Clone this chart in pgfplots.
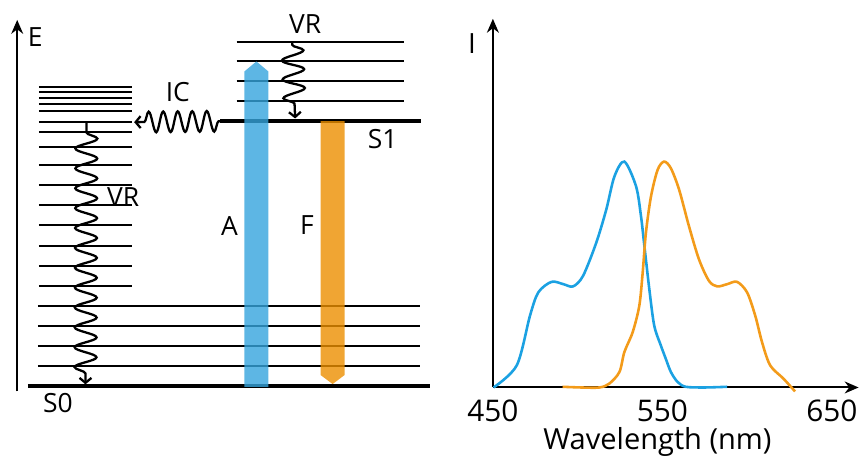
\documentclass[border=0pt]{standalone}
\usepackage{pgfplots}
\pgfplotsset{compat=1.18}
\usepackage{fontspec}
\setmainfont{Open Sans}
\usetikzlibrary{decorations.pathmorphing,arrows.meta}
\definecolor{absB}{RGB}{53,164,221}
\definecolor{fluO}{RGB}{236,143,0}
\definecolor{specB}{RGB}{27,161,226}
\definecolor{specO}{RGB}{243,155,26}
\begin{document}
\begin{tikzpicture}
\begin{axis}[name=diag, at={(0,0)}, anchor=south west, scale only axis,
  width=432pt, height=228.5pt, xmin=0, xmax=864, ymin=0, ymax=457,
  y dir=reverse, hide axis, clip=false, unbounded coords=jump]
\path (axis cs:0,0) rectangle (axis cs:864,457);
% energy axis
\draw[line width=1pt, -{Stealth[length=7pt,width=6pt]}] (axis cs:17.3,393) -- (axis cs:17.3,20);
% short levels of S0
\addplot[black, line width=1pt] coordinates {
(39,87.3)(133,87.3)(nan,nan)(39,92.7)(133,92.7)(nan,nan)(39,98.3)(133,98.3)(nan,nan)
(39,104)(133,104)(nan,nan)(39,111.7)(133,111.7)(nan,nan)(39,122.7)(133,122.7)(nan,nan)
(39,132.3)(133,132.3)(nan,nan)(39,147.7)(133,147.7)(nan,nan)(39,165.7)(133,165.7)(nan,nan)
(39,185.7)(133,185.7)(nan,nan)(39,206)(133,206)(nan,nan)(39,226)(133,226)(nan,nan)
(39,246.7)(133,246.7)(nan,nan)(39,266.7)(133,266.7)(nan,nan)(39,287)(133,287)};
% long levels of S0
\addplot[black, line width=1pt] coordinates {
(38,307.3)(423,307.3)(nan,nan)(38,327.3)(423,327.3)(nan,nan)(38,347.3)(423,347.3)(nan,nan)(38,367.7)(423,367.7)};
% levels of S1
\addplot[black, line width=1pt] coordinates {
(238,41.7)(407,41.7)(nan,nan)(238,61.7)(407,61.7)(nan,nan)(238,81.7)(407,81.7)(nan,nan)(238,101.7)(407,101.7)};
% S0 and S1
\addplot[black, line width=2.4pt] coordinates {(28,387.7)(433,387.7)};
\addplot[black, line width=2.2pt] coordinates {(221.7,121.7)(423.3,121.7)};
% absorption and fluorescence arrows
\addplot[fill=absB, draw=none, fill opacity=0.8] coordinates {(246,388.5)(246,71.7)(258,61.7)(270,71.7)(270,388.5)} -- cycle;
\addplot[fill=fluO, draw=none, fill opacity=0.8] coordinates {(322.7,121.7)(346.7,121.7)(346.7,376.7)(334.7,385.7)(322.7,376.7)} -- cycle;
% wavy transitions
\draw[line width=1.15pt, decorate, decoration={snake, amplitude=5.2pt, segment length=7.3pt, pre length=1pt, post length=3pt}, -{Straight Barb[length=2.5pt,width=6pt]}]
  (axis cs:222,121.7) -- (axis cs:135,122.7);
\draw[line width=1.15pt, decorate, decoration={snake, amplitude=5.5pt, segment length=9.5pt, pre length=1pt, post length=3pt}, -{Straight Barb[length=2.5pt,width=6pt]}]
  (axis cs:294,43) -- (axis cs:297,119);
\draw[line width=1.15pt, decorate, decoration={snake, amplitude=5.5pt, segment length=10pt, pre length=5pt, post length=4pt}, -{Straight Barb[length=2.5pt,width=6pt]}]
  (axis cs:87,123) -- (axis cs:86,386);
% labels
\begin{scope}[every node/.style={font=\fontsize{13.3}{15}\selectfont, inner sep=0pt, anchor=center}]
\node at (axis cs:35.5,37.5) {E};
\node at (axis cs:307,24) {VR};
\node at (axis cs:179,92.5) {IC};
\node at (axis cs:385,140) {S1};
\node at (axis cs:124,198) {VR};
\node at (axis cs:231,226.7) {A};
\node at (axis cs:309,226) {F};
\node at (axis cs:58.3,405) {S0};
\end{scope}
\end{axis}
\begin{axis}[at={(248pt,34pt)}, anchor=south west, scale only axis,
  width=184pt, height=185.5pt, xmin=450, xmax=665.8, ymin=0, ymax=371,
  axis lines=left, axis line style={line width=1pt, -{Stealth[length=7pt,width=6pt]}},
  xtick={450,550,650}, ytick=\empty, major tick length=0pt, clip=false,
  tick label style={font=\fontsize{15}{17}\selectfont},
  /pgf/number format/assume math mode=true,
  xticklabel style={anchor=center, yshift=-12pt},
  xlabel={Wavelength (nm)},
  xlabel style={font=\fontsize{14.6}{17}\selectfont, anchor=center, at={(rel axis cs:0.45,0)}, yshift=-27.5pt},
  ylabel={I},
  ylabel style={font=\fontsize{14}{16}\selectfont, rotate=-90, anchor=center, at={(axis cs:450,346)}, xshift=-10.5pt}]
\addplot[specB, line width=1.3pt, smooth, tension=0.5] coordinates {
(450.4,0)(464.1,22.3)(471.9,72.3)(476.8,95.7)(484.6,106.3)(491.5,104)(497.3,101.7)
(503.2,112.3)(511,145.7)(516.9,179)(521.7,212.3)(527.6,227.3)(534.5,202.3)(537.4,172.3)
(539.3,144)(542.3,99)(545.2,62.3)(549.1,42.3)(552,29)(555,15.7)(558.9,5.7)(563.8,0.7)(575,0)(588.2,0.7)};
\addplot[specO, line width=1.3pt, smooth, tension=0.5] coordinates {
(491.1,0.7)(502,0)(512.9,0)(518.8,4)(524.7,15.7)(527.6,35.7)(532.5,55.7)(536.4,82.3)
(538.4,115.7)(540.3,155.7)(543.3,192.3)(547.2,219)(551,227.3)(555,220.7)(559.9,199)
(565.7,162.3)(571.6,129)(577.5,107.3)(582.4,101.7)(588.3,104)(594.1,106.3)(600,95.7)
(604.8,72.3)(608.8,45.7)(613.6,22.3)(621.4,9)(628.3,-4)};
\end{axis}
\end{tikzpicture}
\end{document}
